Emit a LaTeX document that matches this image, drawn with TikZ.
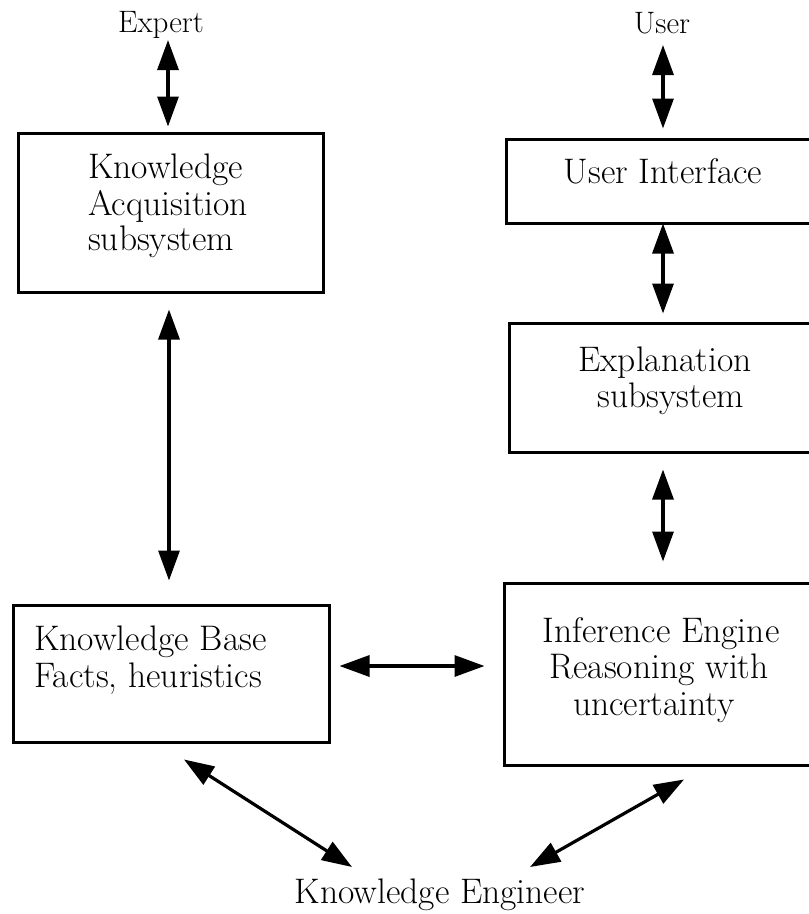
\documentclass[tikz,border=0pt]{standalone}
\usepackage{fontspec}
\usetikzlibrary{arrows.meta,calc}
\tikzset{
  box/.style={draw, line width=3pt, rectangle, inner sep=0pt},
  lbl/.style={inner sep=0pt, font=\fontsize{35.5}{38}\selectfont},
  toplbl/.style={inner sep=0pt, font=\fontsize{31}{34}\selectfont},
  dbl/.style={line width=3.2pt, {Triangle[length=30pt,width=21pt]}-{Triangle[length=30pt,width=21pt]}}
}
\begin{document}
\begin{tikzpicture}[x=1pt,y=-1pt]
\clip (0,0) rectangle (809,914);
\fill[white] (0,0) rectangle (809,914);
% boxes
\node[box, minimum width=305pt, minimum height=159pt] (ka) at (170.5,212.5) {};
\node[box, minimum width=314pt, minimum height=84pt] (ui) at (663,181) {};
\node[box, minimum width=311pt, minimum height=129pt] (expl) at (664.5,387.5) {};
\node[box, minimum width=316pt, minimum height=182pt] (ie) at (662,674) {};
\node[box, minimum width=316pt, minimum height=137pt] (kb) at (171,673.5) {};
% outside labels
\node[toplbl, anchor=base] (expert) at (161,32) {Expert};
\node[toplbl, anchor=base] (user) at (662,33) {User};
\node[lbl, anchor=base] (ke) at (440,903) {Knowledge Engineer};
% box texts
\node[lbl, anchor=base west] (ka1) at (88,178) {Knowledge};
\node[lbl, anchor=base west] (ka2) at (88,215) {Acquisition};
\node[lbl, anchor=base west] (ka3) at (88,250) {subsystem};
\node[lbl, anchor=base] (ui1) at (663,183) {User Interface};
\node[lbl, anchor=base] (ex1) at (665,371) {Explanation};
\node[lbl, anchor=base] (ex2) at (671,407) {subsystem};
\node[lbl, anchor=base west] (kb1) at (34,650) {Knowledge Base};
\node[lbl, anchor=base west] (kb2) at (34,687) {Facts, heuristics};
\node[lbl, anchor=base] (ie1) at (661,642) {Inference Engine};
\node[lbl, anchor=base] (ie2) at (659,678) {Reasoning with};
\node[lbl, anchor=base] (ie3) at (654,715) {uncertainty};
% connectors
\draw[dbl] ($(expert.base)+(7,8)$) -- ($(ka.north)+(-2.5,-5)$);
\draw[dbl] ($(user.base)+(1,12)$) -- ($(ui.north)+(0,-9)$);
\draw[dbl] ($(ui.south)+(0,-1)$) -- ($(expl.north)+(-1.5,-8)$);
\draw[dbl] ($(expl.south)+(-1.5,16)$) -- ($(ie.north)+(1,-20)$);
\draw[dbl] ($(ka.south)+(-1.5,16)$) -- ($(kb.north)+(-2,-23)$);
\draw[dbl] ($(kb.east)+(9,-7.5)$) -- ($(ie.west)+(-18,-8)$);
\draw[dbl] ($(kb.south)+(13,16)$) -- ($(ke.base)+(-88,-36)$);
\draw[dbl] ($(ie.south)+(22,13)$) -- ($(ke.base)+(90,-36)$);
\end{tikzpicture}
\end{document}
